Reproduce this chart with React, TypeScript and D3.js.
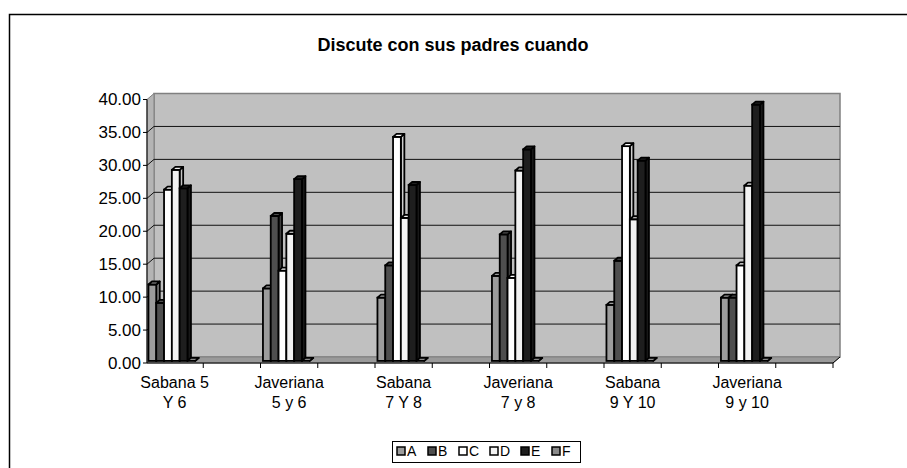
import React from 'react';
import * as d3 from 'd3';

const title = 'Discute con sus padres cuando';
const categories = [
  ['Sabana 5', 'Y 6'],
  ['Javeriana', '5 y 6'],
  ['Sabana', '7 Y 8'],
  ['Javeriana', '7 y 8'],
  ['Sabana', '9 Y 10'],
  ['Javeriana', '9 y 10'],
];
const seriesNames = ['A', 'B', 'C', 'D', 'E', 'F'];
const seriesA = [11.6, 11.0, 9.6, 12.9, 8.5, 9.6];
const seriesB = [8.8, 22.0, 14.5, 19.2, 15.2, 9.6];
const seriesC = [26.0, 13.7, 34.0, 12.6, 32.6, 14.5];
const seriesD = [29.0, 19.3, 21.7, 28.9, 21.5, 26.6];
const seriesE = [26.2, 27.6, 26.7, 32.1, 30.4, 38.9];
const seriesF = [0, 0, 0, 0, 0, 0];
const yTicks = [0, 5, 10, 15, 20, 25, 30, 35, 40];
const seriesColors = ['#9c9c9c', '#4e4e4e', '#ffffff', '#f2f2f2', '#1e1e1e', '#8a8a8a'];

const allSeries = [seriesA, seriesB, seriesC, seriesD, seriesE, seriesF];

// 3d wall depth
const DX = 7;
const DY = 6;
// bar placement inside the depth
const F0 = 0.35;
const BDX = 3.5;
const BDY = 3;
const BAR_W = 7.8;

const FONT = 'Liberation Sans, Arial, sans-serif';

const App: React.FC = () => {
  const y = d3.scaleLinear().domain([0, 40]).range([363, 99.5]);
  // excel shows a blank slot after each category
  const slots = d3.range(categories.length * 2);
  const x = d3.scaleBand<number>().domain(slots).range([146, 833]);

  const x0 = 147;
  const x1 = 833;
  const yb = y(0);
  const yt = y(40);

  const pt = (px: number, py: number) => `${px},${py}`;

  const bars: React.ReactNode[] = [];
  categories.forEach((_, ci) => {
    const left = (x(ci * 2) as number) + F0 * DX;
    allSeries.forEach((s, si) => {
      const v = s[ci];
      const bx = left + si * BAR_W;
      const top = y(v) - F0 * DY;
      const base = yb - F0 * DY;
      const col = seriesColors[si];
      const side = d3.color(col)!.darker(0.6).toString();
      bars.push(
        <g key={`${ci}-${si}`}>
          <polygon
            points={[pt(bx + BAR_W, base), pt(bx + BAR_W, top), pt(bx + BAR_W + BDX, top - BDY), pt(bx + BAR_W + BDX, base - BDY)].join(' ')}
            fill={side}
            stroke="#000"
            strokeWidth={1.8}
            strokeLinejoin="round"
          />
          <rect x={bx} y={top} width={BAR_W} height={base - top} fill={col} stroke="#000" strokeWidth={1.8} />
          <polygon
            points={[pt(bx, top), pt(bx + BDX, top - BDY), pt(bx + BAR_W + BDX, top - BDY), pt(bx + BAR_W, top)].join(' ')}
            fill={col}
            stroke="#000"
            strokeWidth={1.8}
            strokeLinejoin="round"
          />
        </g>
      );
    });
  });

  const legendX = 392;
  const legendY = 441;
  const legendStep = 31;

  return (
    <svg width={907} height={468} style={{ position: 'absolute', left: 0, top: 0, background: '#fff' }}>
      <rect x={9.5} y={14.5} width={1000} height={1000} fill="#fff" stroke="#000" strokeWidth={1.5} />
      <text x={453} y={51} textAnchor="middle" fontFamily={FONT} fontWeight="bold" fontSize={18}>
        {title}
      </text>

      {/* back wall */}
      <rect x={x0 + DX} y={yt - DY} width={x1 - x0} height={yb - yt} fill="#c0c0c0" stroke="#808080" strokeWidth={1.5} />
      {/* side wall */}
      <polygon
        points={[pt(x0, yb), pt(x0, yt), pt(x0 + DX, yt - DY), pt(x0 + DX, yb - DY)].join(' ')}
        fill="#b4b4b4"
        stroke="#808080"
        strokeWidth={1}
      />
      {/* floor */}
      <polygon
        points={[pt(x0, yb), pt(x1, yb), pt(x1 + DX, yb - DY), pt(x0 + DX, yb - DY)].join(' ')}
        fill="#9a9a9a"
        stroke="#808080"
        strokeWidth={1}
      />
      {/* gridlines */}
      {yTicks.slice(1, -1).map((t) => (
        <g key={t}>
          <line x1={x0 + DX} x2={x1 + DX} y1={y(t) - DY} y2={y(t) - DY} stroke="#111" strokeWidth={1} />
          <line x1={x0} x2={x0 + DX} y1={y(t)} y2={y(t) - DY} stroke="#111" strokeWidth={1} />
        </g>
      ))}

      {bars}

      {/* axes */}
      <line x1={x0} x2={x0} y1={yt} y2={yb} stroke="#000" strokeWidth={1} />
      <line x1={x0} x2={x1} y1={yb} y2={yb} stroke="#000" strokeWidth={1} />
      <line x1={x1} x2={x1 + DX} y1={yb} y2={yb - DY} stroke="#000" strokeWidth={1} />
      {yTicks.map((t) => (
        <g key={t}>
          <line x1={x0 - 4} x2={x0} y1={y(t)} y2={y(t)} stroke="#000" strokeWidth={1} />
          <text x={x0 - 6} y={y(t)} dy="0.35em" textAnchor="end" fontFamily={FONT} fontSize={17}>
            {t.toFixed(2)}
          </text>
        </g>
      ))}
      {slots.slice(1).map((s) => (
        <line key={s} x1={x(s)} x2={x(s)} y1={yb} y2={yb + 5} stroke="#000" strokeWidth={1} />
      ))}
      <line x1={x1} x2={x1} y1={yb} y2={yb + 5} stroke="#000" strokeWidth={1} />
      {categories.map((c, ci) => {
        const cx = (x(ci * 2) as number) + x.bandwidth() / 2;
        return (
          <text key={ci} textAnchor="middle" fontFamily={FONT} fontSize={16}>
            <tspan x={cx} y={388}>
              {c[0]}
            </tspan>
            <tspan x={cx} y={408}>
              {c[1]}
            </tspan>
          </text>
        );
      })}

      {/* legend */}
      <rect x={legendX + 0.5} y={legendY + 0.5} width={188} height={21} fill="#fff" stroke="#000" strokeWidth={1} />
      {seriesNames.map((n, i) => (
        <g key={n} transform={`translate(${legendX + 5 + i * legendStep},${legendY + 6})`}>
          <rect x={0} y={0} width={8} height={8} fill={seriesColors[i]} stroke="#000" strokeWidth={1.5} />
          <text x={10} y={9} fontFamily={FONT} fontSize={14}>
            {n}
          </text>
        </g>
      ))}
    </svg>
  );
};

export default App;
